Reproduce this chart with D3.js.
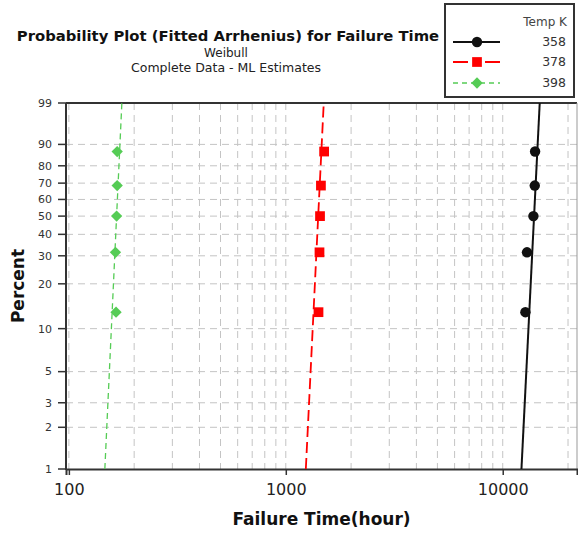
<!DOCTYPE html>
<html>
<head>
<meta charset="utf-8">
<script src="https://cdn.jsdelivr.net/npm/d3@7"></script>
<style>
  body { margin: 0; background: #fff; }
  text { font-family: 'DejaVu Sans', sans-serif; }
</style>
</head>
<body>
<div id="chart"></div>
<script>
// data
const temps = ['358', '378', '398']
const percents = [12.96, 31.48, 50, 68.52, 87.04]
const times358 = [12720, 12940, 13850, 14050, 14100]
const times378 = [1415, 1430, 1438, 1452, 1502]
const times398 = [165, 164, 166, 167, 167]
// fitted lines: time at 1% and 99%
const fitLow = [12200, 1237, 146.5]
const fitHigh = [14810, 1496, 175.5]
const yTicks = [1, 2, 3, 5, 10, 20, 30, 40, 50, 60, 70, 80, 90, 99]
const yGrid = [2, 3, 5, 10, 20, 30, 40, 50, 60, 70, 80, 90]
const xTicks = [100, 1000, 10000]
const xGrid = [100, 200, 300, 400, 500, 600, 700, 800, 900, 1000,
  2000, 3000, 4000, 5000, 6000, 7000, 8000, 9000, 10000, 20000]

;(function() {
const colors = ['#111', '#ff0000', '#55cc55']
const allTimes = [times358, times378, times398]

const width = 578, height = 533
const pLeft = 66, pRight = 577, pTop = 103, pBottom = 469

const svg = d3.select('#chart').append('svg')
  .attr('width', width)
  .attr('height', height)

const weib = p => Math.log(-Math.log(1 - p / 100))

const x = d3.scaleLog().domain([97, 22000]).range([pLeft, pRight])
const yLin = d3.scaleLinear().domain([weib(1), weib(99)]).range([pBottom, pTop])
const y = p => yLin(weib(p))

// grid
svg.append('g').selectAll('line')
  .data(yGrid).enter().append('line')
  .attr('x1', pLeft).attr('x2', pRight)
  .attr('y1', d => y(d)).attr('y2', d => y(d))
  .attr('stroke', '#c4c4c4').attr('stroke-width', 1)
  .attr('stroke-dasharray', '7,5')

svg.append('g').selectAll('line')
  .data(xGrid).enter().append('line')
  .attr('x1', d => x(d)).attr('x2', d => x(d))
  .attr('y1', pTop).attr('y2', pBottom)
  .attr('stroke', '#c4c4c4').attr('stroke-width', 1)
  .attr('stroke-dasharray', '7,5')

// frame
svg.append('line').attr('x1', pLeft).attr('x2', pRight)
  .attr('y1', pTop).attr('y2', pTop)
  .attr('stroke', '#333').attr('stroke-width', 2)
svg.append('line').attr('x1', pRight).attr('x2', pRight)
  .attr('y1', pTop).attr('y2', pBottom)
  .attr('stroke', '#999').attr('stroke-width', 1)

// y axis
const yAxis = svg.append('g').attr('transform', 'translate(' + pLeft + ',0)')
yAxis.append('line').attr('y1', pTop).attr('y2', pBottom + 1)
  .attr('stroke', '#333').attr('stroke-width', 2)
yAxis.selectAll('g').data(yTicks).enter().append('g')
  .attr('transform', d => 'translate(0,' + y(d) + ')')
  .each(function(d) {
    const g = d3.select(this)
    g.append('line').attr('x1', -8).attr('x2', 0).attr('stroke', '#333').attr('stroke-width', 1.5)
    g.append('text').attr('x', -14).attr('dy', '0.35em')
      .attr('text-anchor', 'end').attr('font-size', 11).attr('fill', '#333')
      .text(d)
  })

// x axis
const xAxis = d3.axisBottom(x).tickValues(xTicks).tickFormat(d3.format('d')).tickSize(6).tickPadding(9)
const gx = svg.append('g').attr('transform', 'translate(0,' + pBottom + ')').call(xAxis)
gx.select('.domain').attr('stroke', '#333').attr('stroke-width', 2)
gx.selectAll('.tick line').attr('stroke', '#333').attr('stroke-width', 1.5)
gx.selectAll('.tick text').attr('font-size', 16).attr('fill', '#222')
  .style('font-family', "'DejaVu Sans', sans-serif")

// fitted lines
const dashes = [null, '11,5', '6,4']
const widths = [2, 1.8, 1.3]
temps.forEach((t, i) => {
  svg.append('path')
    .datum([{ t: fitLow[i], p: 1 }, { t: fitHigh[i], p: 99 }])
    .attr('d', d3.line().x(d => x(d.t)).y(d => y(d.p)))
    .attr('fill', 'none')
    .attr('stroke', colors[i])
    .attr('stroke-width', widths[i])
    .attr('stroke-dasharray', dashes[i])
})

// markers (diamond = square turned 45 degrees)
const markerSymbols = [d3.symbolCircle, d3.symbolSquare, d3.symbolSquare]
const markerSizes = [85, 95, 64]
const markerTurn = [0, 0, 45]
allTimes.forEach((times, i) => {
  svg.append('g').selectAll('path')
    .data(times.map((t, j) => ({ t: t, p: percents[j] })))
    .enter().append('path')
    .attr('transform', d => 'translate(' + x(d.t) + ',' + y(d.p) + ') rotate(' + markerTurn[i] + ')')
    .attr('d', d3.symbol().type(markerSymbols[i]).size(markerSizes[i]))
    .attr('fill', colors[i])
})

// titles
svg.append('text').attr('x', 228).attr('y', 41)
  .attr('text-anchor', 'middle').attr('font-size', 14.8).attr('font-weight', 'bold')
  .attr('fill', '#111')
  .text('Probability Plot (Fitted Arrhenius) for Failure Time')
svg.append('text').attr('x', 226).attr('y', 57)
  .attr('text-anchor', 'middle').attr('font-size', 12).attr('fill', '#222')
  .text('Weibull')
svg.append('text').attr('x', 226).attr('y', 72)
  .attr('text-anchor', 'middle').attr('font-size', 12.5).attr('fill', '#222')
  .text('Complete Data - ML Estimates')

svg.append('text')
  .attr('transform', 'translate(24,' + ((pTop + pBottom) / 2) + ') rotate(-90)')
  .attr('text-anchor', 'middle').attr('font-size', 17).attr('font-weight', 'bold')
  .attr('fill', '#111')
  .text('Percent')
svg.append('text').attr('x', (pLeft + pRight) / 2).attr('y', 525)
  .attr('text-anchor', 'middle').attr('font-size', 17).attr('font-weight', 'bold')
  .attr('fill', '#111')
  .text('Failure Time(hour)')

// legend
const legend = svg.append('g')
legend.append('rect').attr('x', 445).attr('y', 4).attr('width', 129).attr('height', 93)
  .attr('fill', '#fff').attr('stroke', '#333').attr('stroke-width', 2)
legend.append('text').attr('x', 567).attr('y', 26).attr('text-anchor', 'end')
  .attr('font-size', 12).attr('fill', '#444').text('Temp K')
const rowY = [42, 62, 83]
const legendDash = [null, '15,17,15', '5,4']
temps.forEach((t, i) => {
  const row = legend.append('g').attr('transform', 'translate(0,' + rowY[i] + ')')
  row.append('line').attr('x1', 453).attr('x2', 500)
    .attr('stroke', colors[i]).attr('stroke-width', widths[i])
    .attr('stroke-dasharray', legendDash[i])
  row.append('path').attr('transform', 'translate(477,0) rotate(' + markerTurn[i] + ')')
    .attr('d', d3.symbol().type(markerSymbols[i]).size(markerSizes[i]))
    .attr('fill', colors[i])
  row.append('text').attr('x', 566).attr('dy', '0.35em').attr('text-anchor', 'end')
    .attr('font-size', 12.5).attr('fill', '#333').text(t)
})
})()
</script>
</body>
</html>
